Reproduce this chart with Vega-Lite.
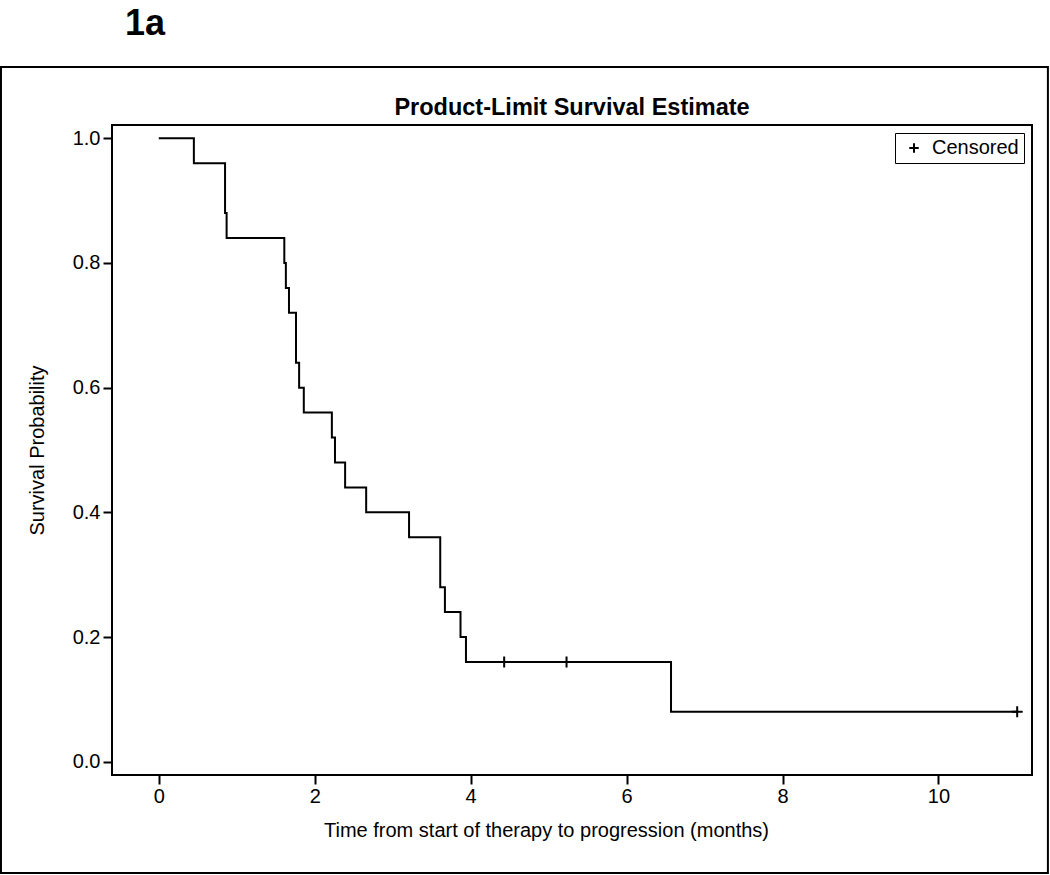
{
  "$schema": "https://vega.github.io/schema/vega-lite/v6.json",
  "width": 920,
  "height": 650,
  "autosize": {"type": "none"},
  "padding": {"left": 112, "top": 125, "right": 18, "bottom": 100},
  "background": "white",
  "config": {
    "font": "Liberation Sans",
    "view": {"stroke": "black", "strokeWidth": 2},
    "axis": {
      "grid": false,
      "domain": false,
      "tickColor": "black",
      "tickWidth": 2,
      "tickSize": 9,
      "labelFont": "Liberation Sans",
      "labelFontSize": 20,
      "labelColor": "black",
      "titleFont": "Liberation Sans",
      "titleFontSize": 20,
      "titleFontWeight": "normal",
      "titleColor": "black"
    }
  },
  "datasets": {
    "km": [
      {"time": 0, "survival": 1.0},
      {"time": 0.45, "survival": 0.96},
      {"time": 0.85, "survival": 0.88},
      {"time": 0.87, "survival": 0.84},
      {"time": 1.61, "survival": 0.80},
      {"time": 1.63, "survival": 0.76},
      {"time": 1.67, "survival": 0.72},
      {"time": 1.76, "survival": 0.64},
      {"time": 1.80, "survival": 0.60},
      {"time": 1.86, "survival": 0.56},
      {"time": 2.22, "survival": 0.52},
      {"time": 2.26, "survival": 0.48},
      {"time": 2.39, "survival": 0.44},
      {"time": 2.66, "survival": 0.40},
      {"time": 3.21, "survival": 0.36},
      {"time": 3.61, "survival": 0.28},
      {"time": 3.67, "survival": 0.24},
      {"time": 3.87, "survival": 0.20},
      {"time": 3.94, "survival": 0.16},
      {"time": 6.57, "survival": 0.08},
      {"time": 11.01, "survival": 0.08}
    ],
    "cens": [
      {"time": 4.43, "survival": 0.16, "status": "Censored"},
      {"time": 5.23, "survival": 0.16, "status": "Censored"},
      {"time": 11.01, "survival": 0.08, "status": "Censored"}
    ]
  },
  "layer": [
    {
      "data": {"name": "km"},
      "mark": {"type": "line", "interpolate": "step-after", "color": "black", "strokeWidth": 2},
      "encoding": {
        "x": {
          "field": "time", "type": "quantitative",
          "scale": {"domain": [-0.6, 11.2], "nice": false, "zero": false},
          "axis": {"values": [0, 2, 4, 6, 8, 10], "format": "d", "labelPadding": 2, "titlePadding": 14, "titleX": 434, "title": "Time from start of therapy to progression (months)"}
        },
        "y": {
          "field": "survival", "type": "quantitative",
          "scale": {"domain": [-0.0213, 1.0213], "nice": false, "zero": false},
          "axis": {"values": [0, 0.2, 0.4, 0.6, 0.8, 1.0], "format": ".1f", "labelPadding": 3, "titlePadding": 25, "title": "Survival Probability"}
        }
      }
    },
    {
      "data": {"name": "cens"},
      "mark": {"type": "point", "filled": false, "stroke": "black", "strokeWidth": 2, "size": 121, "opacity": 1},
      "encoding": {
        "x": {"field": "time", "type": "quantitative", "title": "Time from start of therapy to progression (months)"},
        "y": {"field": "survival", "type": "quantitative", "title": "Survival Probability"},
        "shape": {
          "field": "status", "type": "nominal",
          "scale": {"domain": ["Censored"], "range": ["M0,-1L0,1M-1,0L1,0"]},
          "legend": {
            "title": null,
            "orient": "top-right",
            "offset": 8,
            "strokeColor": "black",
            "padding": 5,
            "symbolOffset": 4,
            "symbolSize": 90,
            "symbolStrokeColor": "black",
            "symbolFillColor": "transparent",
            "symbolStrokeWidth": 2,
            "labelFont": "Liberation Sans",
            "labelFontSize": 20,
            "labelColor": "black",
            "labelOffset": 8
          }
        }
      }
    },
    {
      "data": {"values": [{}]},
      "mark": {"type": "rect", "filled": false, "stroke": "black", "strokeWidth": 2, "clip": false},
      "encoding": {
        "x": {"datum": -2.024, "type": "quantitative", "title": "Time from start of therapy to progression (months)"},
        "x2": {"datum": 11.404},
        "y": {"datum": 1.1143, "type": "quantitative", "title": "Survival Probability"},
        "y2": {"datum": -0.1786}
      }
    },
    {
      "data": {"values": [{}]},
      "mark": {"type": "text", "text": "Product-Limit Survival Estimate", "font": "Liberation Sans", "fontSize": 23.5, "fontWeight": "bold", "color": "black", "align": "center", "baseline": "alphabetic", "clip": false},
      "encoding": {
        "x": {"datum": 5.3, "type": "quantitative", "title": "Time from start of therapy to progression (months)"},
        "y": {"datum": 1.0373, "type": "quantitative", "title": "Survival Probability"}
      }
    },
    {
      "data": {"values": [{}]},
      "mark": {"type": "text", "text": "1a", "font": "Liberation Sans", "fontSize": 36, "fontWeight": "bold", "color": "black", "align": "left", "baseline": "alphabetic", "clip": false},
      "encoding": {
        "x": {"datum": -0.4335, "type": "quantitative", "title": "Time from start of therapy to progression (months)"},
        "y": {"datum": 1.1657, "type": "quantitative", "title": "Survival Probability"}
      }
    }
  ]
}
